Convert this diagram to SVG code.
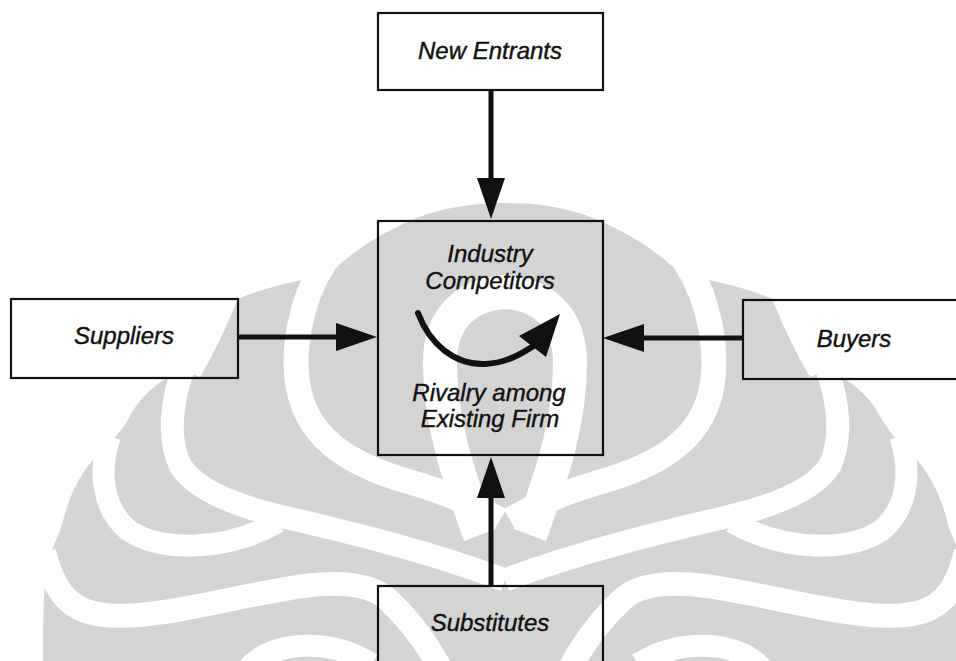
<svg xmlns="http://www.w3.org/2000/svg" width="956" height="661" viewBox="0 0 956 661">
<defs>
<style>
.wm{fill:#d4d4d4;stroke:none}
.wc{fill:none;stroke:#ffffff;stroke-linecap:butt;stroke-linejoin:round}
.box{fill:none;stroke:#111;stroke-width:2.2}
.lbl{font-family:"Liberation Sans",Arial,sans-serif;font-style:italic;font-size:24px;fill:#111;stroke:#111;stroke-width:0.4;text-anchor:middle}
.conn{fill:none;stroke:#111;stroke-width:5}
</style>
<marker id="head" markerUnits="userSpaceOnUse" markerWidth="42" markerHeight="30" viewBox="0 0 42 30" refX="12" refY="15" orient="auto">
<path d="M0,1 L41,15 L0,29 Z" fill="#111"/>
</marker>
<g id="wmhalf">
<path class="wm" d="M505,203 C460,203 425,212 395,228 C370,240 345,258 330,274 C300,280 262,288 238,299 C225,330 213,355 200,377 L182,370 C160,380 140,395 128,420 C118,435 110,443 105,448 C85,465 70,490 62,525 C55,545 48,555 46,570 C43,600 43,630 43,661 L505,661 Z"/>
<path class="wc" stroke-width="25" d="M325,262 C300,300 290,355 300,395 C312,440 350,465 410,482 C445,492 475,505 500,520"/>
<path class="wc" stroke-width="34" d="M515,292 C468,290 440,318 440,362 C440,420 456,470 480,535"/>
<path class="wc" stroke-width="23" d="M186,362 C170,400 168,440 180,465 C195,490 235,505 275,515 C330,528 420,548 505,580"/>
<path class="wc" stroke-width="22" d="M110,436 C98,470 102,508 128,530 C160,552 225,552 278,522"/>
<path class="wc" stroke-width="24" d="M44,552 C55,595 72,612 105,615 C150,620 220,600 280,590 C330,580 365,582 385,597 C405,615 425,640 440,668"/>
<path class="wc" stroke-width="22" d="M248,668 C275,640 330,638 372,664"/>
</g>
</defs>
<rect width="956" height="661" fill="#ffffff"/>
<g id="watermark">
<use href="#wmhalf"/>
<use href="#wmhalf" transform="matrix(-1 0 0 1 1010 0)"/>
</g>
<g id="connectors">
<path class="conn" d="M491,90 L491,190" marker-end="url(#head)"/>
<path class="conn" d="M238,337 L348,337" marker-end="url(#head)"/>
<path class="conn" d="M743,338 L632,338" marker-end="url(#head)"/>
<path class="conn" d="M491,586 L491,486" marker-end="url(#head)"/>
</g>
<g id="new-entrants">
<rect class="box" x="378" y="13" width="225" height="77"/>
<text class="lbl" x="490" y="59">New Entrants</text>
</g>
<g id="industry-competitors">
<rect class="box" x="378" y="221" width="225" height="234"/>
<text class="lbl" x="490" y="262">Industry</text>
<text class="lbl" x="490" y="289">Competitors</text>
<path d="M418,313 C430,345 455,365 485,364 C505,363 520,355 535,345" fill="none" stroke="#111" stroke-width="6" stroke-linecap="round"/>
<polygon points="560,314 519,336 546,357" fill="#111"/>
<text class="lbl" x="489" y="401">Rivalry among</text>
<text class="lbl" x="490" y="427">Existing Firm</text>
</g>
<g id="suppliers">
<rect class="box" x="11" y="299" width="227" height="79"/>
<text class="lbl" x="124" y="344">Suppliers</text>
</g>
<g id="buyers">
<rect class="box" x="743" y="300" width="225" height="79"/>
<text class="lbl" x="854" y="347">Buyers</text>
</g>
<g id="substitutes">
<rect class="box" x="378" y="586" width="225" height="90"/>
<text class="lbl" x="490" y="631">Substitutes</text>
</g>
</svg>
